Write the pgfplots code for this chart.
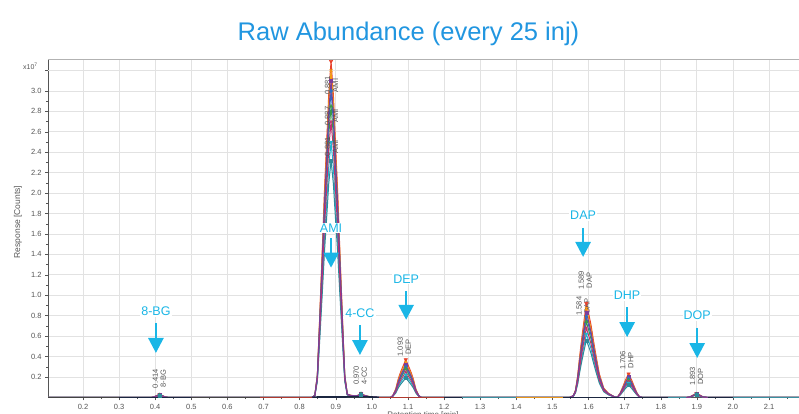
\documentclass[border=0pt]{standalone}
\usepackage{fontspec}
\setmainfont{Liberation Sans}
\usepackage{pgfplots}
\usepackage{pgfplotstable}
\pgfplotsset{compat=1.18}
\usetikzlibrary{arrows.meta}

\definecolor{titleblue}{HTML}{2196E0}
\definecolor{anncyan}{HTML}{1AB6E6}
\definecolor{tickgray}{HTML}{555555}
\definecolor{gridgray}{HTML}{E2E2E2}
\definecolor{cA}{HTML}{E8412C}
\definecolor{cB}{HTML}{F39C12}
\definecolor{cC}{HTML}{7D3C98}
\definecolor{cD}{HTML}{2E6FC0}
\definecolor{cE}{HTML}{3A9A48}
\definecolor{cF}{HTML}{C2306E}
\definecolor{cG}{HTML}{20B2CF}
\definecolor{cH}{HTML}{2E8B9A}
\definecolor{bnavy}{HTML}{1B2640}
\definecolor{bred}{HTML}{B03A2E}
\definecolor{bteal}{HTML}{3A8FA0}
\definecolor{borange}{HTML}{E8961C}
\definecolor{bgray}{HTML}{444444}

\pgfplotstableread{
x t1 t2 t3 t4 t5 t6 t7 t8
0.103 0 0 0 0 0 0 0 0
0.388 0 0 0 0 0 0 0 0
0.396 0.004 0.004 0.004 0.003 0.003 0.003 0.002 0.002
0.404 0.018 0.017 0.016 0.015 0.013 0.012 0.011 0.010
0.412 0.030 0.028 0.026 0.024 0.022 0.020 0.018 0.016
0.420 0.018 0.017 0.016 0.015 0.013 0.012 0.011 0.010
0.428 0.004 0.004 0.004 0.003 0.003 0.003 0.002 0.002
0.438 0 0 0 0 0 0 0 0
0.800 0 0 0 0 0 0 0 0
0.834 0 0 0 0 0 0 0 0
0.842 0.020 0.019 0.019 0.018 0.017 0.016 0.015 0.014
0.849 0.220 0.214 0.208 0.201 0.191 0.181 0.168 0.155
0.855 0.740 0.720 0.698 0.675 0.641 0.608 0.563 0.522
0.862 1.382 1.344 1.302 1.260 1.197 1.134 1.050 0.974
0.869 2.040 1.984 1.922 1.860 1.767 1.674 1.550 1.438
0.8745 2.468 2.400 2.325 2.250 2.138 2.025 1.875 1.740
0.8805 2.961 2.880 2.790 2.700 2.565 2.430 2.250 2.088
0.887 3.29 3.20 3.10 3.00 2.85 2.70 2.50 2.32
0.8935 2.961 2.880 2.790 2.700 2.565 2.430 2.250 2.088
0.8995 2.468 2.400 2.325 2.250 2.138 2.025 1.875 1.740
0.905 2.040 1.984 1.922 1.860 1.767 1.674 1.550 1.438
0.912 1.382 1.344 1.302 1.260 1.197 1.134 1.050 0.974
0.919 0.740 0.720 0.698 0.675 0.641 0.608 0.563 0.522
0.925 0.220 0.214 0.208 0.201 0.191 0.181 0.168 0.155
0.932 0.033 0.032 0.031 0.030 0.029 0.027 0.025 0.023
0.940 0.022 0.021 0.020 0.020 0.019 0.018 0.017 0.016
0.950 0.017 0.016 0.016 0.015 0.014 0.014 0.013 0.012
0.958 0.016 0.015 0.015 0.014 0.013 0.013 0.012 0.011
0.964 0.025 0.024 0.023 0.022 0.021 0.020 0.019 0.018
0.970 0.040 0.038 0.036 0.035 0.033 0.031 0.029 0.027
0.977 0.024 0.023 0.022 0.021 0.020 0.019 0.018 0.017
0.988 0.012 0.011 0.011 0.010 0.010 0.009 0.009 0.008
1.005 0.002 0.002 0.002 0.002 0.002 0.002 0.001 0.001
1.040 0 0 0 0 0 0 0 0
1.052 0 0 0 0 0 0 0 0
1.058 0.019 0.017 0.016 0.015 0.014 0.013 0.011 0.010
1.066 0.081 0.076 0.070 0.066 0.062 0.055 0.048 0.042
1.0735 0.185 0.173 0.160 0.150 0.140 0.125 0.110 0.095
1.080 0.252 0.235 0.218 0.204 0.190 0.170 0.150 0.129
1.087 0.311 0.290 0.269 0.252 0.235 0.210 0.185 0.160
1.094 0.37 0.345 0.32 0.30 0.28 0.25 0.22 0.19
1.101 0.311 0.290 0.269 0.252 0.235 0.210 0.185 0.160
1.108 0.252 0.235 0.218 0.204 0.190 0.170 0.150 0.129
1.1145 0.185 0.173 0.160 0.150 0.140 0.125 0.110 0.095
1.122 0.081 0.076 0.070 0.066 0.062 0.055 0.048 0.042
1.130 0.019 0.017 0.016 0.015 0.014 0.013 0.011 0.010
1.137 0 0 0 0 0 0 0 0
1.530 0 0 0 0 0 0 0 0
1.548 0 0 0 0 0 0 0 0
1.558 0.018 0.017 0.017 0.016 0.015 0.014 0.012 0.011
1.564 0.072 0.068 0.065 0.062 0.058 0.053 0.048 0.044
1.570 0.212 0.200 0.191 0.182 0.170 0.156 0.143 0.129
1.5755 0.400 0.378 0.361 0.344 0.322 0.296 0.270 0.244
1.581 0.570 0.539 0.515 0.490 0.459 0.422 0.384 0.347
1.587 0.736 0.696 0.664 0.632 0.592 0.544 0.496 0.448
1.594 0.92 0.87 0.83 0.79 0.74 0.68 0.62 0.56
1.600 0.828 0.783 0.747 0.711 0.666 0.612 0.558 0.504
1.607 0.708 0.670 0.639 0.608 0.570 0.524 0.477 0.431
1.614 0.552 0.522 0.498 0.474 0.444 0.408 0.372 0.336
1.621 0.405 0.383 0.365 0.348 0.326 0.299 0.273 0.246
1.630 0.230 0.218 0.208 0.198 0.185 0.170 0.155 0.140
1.642 0.092 0.087 0.083 0.079 0.074 0.068 0.062 0.056
1.655 0.041 0.039 0.037 0.036 0.033 0.031 0.028 0.025
1.668 0.014 0.013 0.012 0.012 0.011 0.010 0.009 0.008
1.676 0 0 0 0 0 0 0 0
1.681 0.007 0.006 0.006 0.006 0.005 0.005 0.004 0.004
1.688 0.046 0.042 0.040 0.037 0.034 0.031 0.028 0.024
1.695 0.104 0.095 0.090 0.083 0.077 0.070 0.063 0.054
1.702 0.166 0.151 0.144 0.133 0.122 0.112 0.101 0.086
1.711 0.23 0.21 0.20 0.185 0.17 0.155 0.14 0.12
1.720 0.166 0.151 0.144 0.133 0.122 0.112 0.101 0.086
1.727 0.104 0.095 0.090 0.083 0.077 0.070 0.063 0.054
1.734 0.046 0.042 0.040 0.037 0.034 0.031 0.028 0.024
1.741 0.007 0.006 0.006 0.006 0.005 0.005 0.004 0.004
1.750 0 0 0 0 0 0 0 0
1.871 0 0 0 0 0 0 0 0
1.881 0.005 0.005 0.005 0.004 0.004 0.004 0.003 0.003
1.890 0.024 0.022 0.021 0.019 0.018 0.017 0.015 0.013
1.899 0.040 0.036 0.034 0.032 0.030 0.028 0.025 0.022
1.908 0.024 0.022 0.021 0.019 0.018 0.017 0.015 0.013
1.917 0.005 0.005 0.005 0.004 0.004 0.004 0.003 0.003
1.931 0 0 0 0 0 0 0 0
2.183 0 0 0 0 0 0 0 0
}\traces

\pgfplotstableread{
x t1 t2 t3 t4 t5 t6 t7 t8
0.412 0.030 0.028 0.026 0.024 0.022 0.020 0.018 0.016
0.887 3.29 3.20 3.10 3.00 2.85 2.70 2.50 2.32
0.970 0.040 0.038 0.036 0.035 0.033 0.031 0.029 0.027
1.094 0.37 0.345 0.32 0.30 0.28 0.25 0.22 0.19
1.594 0.92 0.87 0.83 0.79 0.74 0.68 0.62 0.56
1.711 0.23 0.21 0.20 0.185 0.17 0.155 0.14 0.12
1.899 0.040 0.036 0.034 0.032 0.030 0.028 0.025 0.022
}\apex

\tikzset{
  ann/.style={text=anncyan, font=\fontsize{12.5}{14}\selectfont, fill=white, inner sep=1pt},
  annarrow/.style={draw=anncyan, line width=2.6pt, -{Triangle[width=15pt,length=15pt]}},
  plab/.style={rotate=90, anchor=west, inner sep=0pt, align=center, text=tickgray,
    font=\fontsize{7.5}{8}\selectfont},
}

\begin{document}
\begin{tikzpicture}
\useasboundingbox (0,0) rectangle (799pt,413pt);
\begin{axis}[
  at={(48pt,15.6pt)}, anchor=south west,
  scale only axis, width=751pt, height=338.4pt,
  xmin=0.1031, xmax=2.183, ymin=0, ymax=3.313,
  axis lines*=left,
  axis line style={draw=tickgray, line width=0.8pt},
  xtick={0.2,0.3,...,2.15},
  ytick={0.2,0.4,...,3.05},
  extra y ticks={3.2}, extra y tick labels={},
  extra y tick style={grid=major},
  minor x tick num=1, minor y tick num=1,
  tick align=outside,
  major tick length=3pt, minor tick length=1.8pt,
  tick style={draw=tickgray, line width=0.4pt},
  grid=major,
  major grid style={draw=gridgray, line width=0.8pt},
  /pgf/number format/assume math mode=true,
  /pgf/number format/fixed, /pgf/number format/fixed zerofill,
  /pgf/number format/precision=1,
  ticklabel style={font=\fontsize{7.5}{8}\selectfont, text=tickgray},
  clip=true,
]
\addplot[cA, line width=1pt] table[x=x,y=t1]{\traces};
\addplot[cB, line width=1pt] table[x=x,y=t2]{\traces};
\addplot[cG, line width=1pt] table[x=x,y=t7]{\traces};
\addplot[cE, line width=1pt] table[x=x,y=t5]{\traces};
\addplot[cD, line width=1pt] table[x=x,y=t4]{\traces};
\addplot[cH, line width=1pt] table[x=x,y=t8]{\traces};
\addplot[cF, line width=1pt] table[x=x,y=t6]{\traces};
\addplot[cC, line width=1pt] table[x=x,y=t3]{\traces};
% apex markers
\addplot[only marks, cA, mark=triangle*, mark size=2pt, mark options={rotate=180}] table[x=x,y=t1]{\apex};
\addplot[only marks, cB, mark=x, mark size=2pt, line width=0.7pt] table[x=x,y=t2]{\apex};
\addplot[only marks, cC, mark=square*, mark size=1.5pt] table[x=x,y=t3]{\apex};
\addplot[only marks, cD, mark=diamond*, mark size=2pt] table[x=x,y=t4]{\apex};
\addplot[only marks, cE, mark=triangle*, mark size=2pt] table[x=x,y=t5]{\apex};
\addplot[only marks, cF, mark=x, mark size=2pt, line width=0.7pt] table[x=x,y=t6]{\apex};
\addplot[only marks, cG, mark=triangle*, mark size=2pt, mark options={rotate=180}] table[x=x,y=t7]{\apex};
\addplot[only marks, cH, mark=square*, mark size=1.5pt] table[x=x,y=t8]{\apex};
% coloured baselines
\addplot[bgray, line width=1.3pt] coordinates {(0.103,0) (0.30,0)};
\addplot[bnavy, line width=1.3pt] coordinates {(0.30,0) (0.50,0)};
\addplot[bgray, line width=1.3pt] coordinates {(0.50,0) (0.69,0)};
\addplot[bred, line width=1.3pt] coordinates {(0.69,0) (0.835,0)};
\addplot[bnavy, line width=1.6pt] coordinates {(0.835,0) (0.85,0.004) (0.92,0.004) (0.96,0.006) (1.0,0.004) (1.02,0)};
\addplot[bred, line width=1.3pt] coordinates {(1.02,0) (1.20,0)};
\addplot[bnavy, line width=1.3pt] coordinates {(1.20,0) (1.25,0)};
\addplot[bteal, line width=1.3pt] coordinates {(1.25,0) (1.40,0)};
\addplot[borange, line width=1.3pt] coordinates {(1.40,0) (1.53,0)};
\addplot[bnavy, line width=1.3pt] coordinates {(1.53,0) (1.82,0)};
\addplot[bteal, line width=1.3pt] coordinates {(1.82,0) (1.87,0)};
\addplot[bnavy, line width=1.3pt] coordinates {(1.93,0) (2.00,0)};
\addplot[bteal, line width=1.3pt] coordinates {(2.00,0) (2.183,0)};
% top border
\draw[draw=gray!60, line width=0.8pt] (rel axis cs:0,1) -- (rel axis cs:1,1);
% peak labels
\node[plab] at (axis cs:0.411,0.09) {0.414\\8-BG};
\node[plab] at (axis cs:0.888,2.36) {0.881\\AMI};
\node[plab] at (axis cs:0.888,2.66) {0.887\\AMI};
\node[plab] at (axis cs:0.888,2.96) {0.881\\AMI};
\node[plab] at (axis cs:0.968,0.12) {0.970\\4-CC};
\node[plab] at (axis cs:1.090,0.40) {1.093\\DEP};
\node[plab] at (axis cs:1.585,0.80) {1.584\\DAP};
\node[plab] at (axis cs:1.591,1.05) {1.589\\DAP};
\node[plab] at (axis cs:1.706,0.27) {1.706\\DHP};
\node[plab] at (axis cs:1.899,0.11) {1.893\\DOP};
% annotations
\draw[annarrow] (axis cs:0.402,0.73) -- (axis cs:0.402,0.435);
\node[ann] at (axis cs:0.402,0.84) {8-BG};
\draw[annarrow] (axis cs:0.887,1.56) -- (axis cs:0.887,1.27);
\node[ann] at (axis cs:0.887,1.66) {AMI};
\draw[annarrow] (axis cs:0.967,0.71) -- (axis cs:0.967,0.415);
\node[ann] at (axis cs:0.967,0.826) {4-CC};
\draw[annarrow] (axis cs:1.095,1.04) -- (axis cs:1.095,0.76);
\node[ann] at (axis cs:1.095,1.16) {DEP};
\draw[annarrow] (axis cs:1.585,1.66) -- (axis cs:1.585,1.375);
\node[ann] at (axis cs:1.585,1.78) {DAP};
\draw[annarrow] (axis cs:1.707,0.885) -- (axis cs:1.707,0.59);
\node[ann] at (axis cs:1.707,1.0) {DHP};
\draw[annarrow] (axis cs:1.901,0.68) -- (axis cs:1.901,0.385);
\node[ann] at (axis cs:1.901,0.80) {DOP};
\end{axis}
\node[anchor=base, text=titleblue, font=\fontsize{25.5}{28}\selectfont] at (408.5pt,372pt) {Raw Abundance (every 25 inj)};
\node[anchor=base west, inner sep=0pt, text=tickgray, font=\fontsize{7}{8}\selectfont] at (23pt,343pt) {x10\textsuperscript{7}};
\node[rotate=90, text=tickgray, font=\fontsize{8.5}{9}\selectfont] at (18pt,191pt) {Response [Counts]};
\node[anchor=north, text=tickgray, font=\fontsize{8}{9}\selectfont] at (423pt,5pt) {Retention time [min]};
\end{tikzpicture}
\end{document}
